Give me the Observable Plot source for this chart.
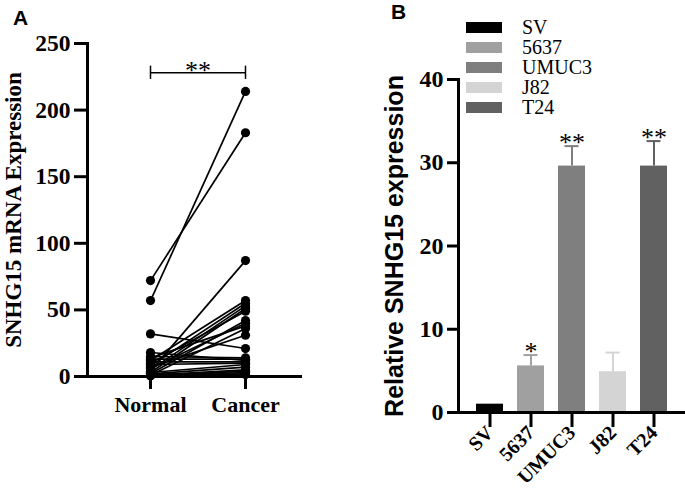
<!DOCTYPE html>
<html>
<head>
<meta charset="utf-8">
<script src="https://cdn.jsdelivr.net/npm/d3@7"></script>
<script src="https://cdn.jsdelivr.net/npm/@observablehq/plot@0.6"></script>
<style>
  html, body { margin: 0; padding: 0; background: #fff; }
  #root { position: relative; width: 685px; height: 496px; overflow: hidden; background: #fff; }
  .panel { position: absolute; top: 0; }
  .tag { position: absolute; font-family: "Liberation Sans", Arial, sans-serif; font-weight: bold; font-size: 21px; line-height: 24px; z-index: 2; }
  #legend { position: absolute; left: 466px; top: 17px; font-family: "Liberation Serif", "Times New Roman", serif; font-size: 20px; z-index: 2; }
  #legend .row { display: flex; align-items: center; height: 20px; }
  #legend .sw { width: 36px; height: 11px; margin-right: 20px; }
</style>
</head>
<body>
<div id="root">
  <div id="panelA" class="panel" style="left:0px;"></div>
  <div id="panelB" class="panel" style="left:365px;"></div>
  <div class="tag" style="left:13px; top:6px;">A</div>
  <div class="tag" style="left:391px; top:0px;">B</div>
  <div id="legend"></div>
</div>
<script>
// ---- Panel A data (paired samples) ----
const groupsA = ["Normal", "Cancer"];
const normalValues = [72, 57, 32, 4, 12, 8, 5, 3, 10, 2, 6, 14, 1, 7, 15, 18, 11, 3, 2, 1, 0.5, 0.5, 1, 2, 9, 13];
const cancerValues = [183, 214, 21, 87, 57, 55, 53, 51, 49, 42, 40, 38, 36, 31, 14, 12, 11, 9, 7, 5, 4, 3, 2, 1.5, 10, 13];
const ticksA = [0, 50, 100, 150, 200, 250];
const sigA = {from: "Normal", to: "Cancer", y: 228, label: "**"};
const titleA = "SNHG15 mRNA Expression";

// ---- Panel B data ----
const cellLines = ["SV", "5637", "UMUC3", "J82", "T24"];
const meanValues = [1, 5.6, 29.6, 4.9, 29.6];
const errValues = [0, 1.3, 2.4, 2.3, 3.0];
const sigLabels = ["", "*", "**", "", "**"];
const barColors = ["#000000", "#a0a0a0", "#7f7f7f", "#d4d4d4", "#616161"];
const ticksB = [0, 10, 20, 30, 40];
const titleB = "Relative SNHG15 expression";

const serif = "'Liberation Serif', 'Times New Roman', serif";
const sans = "'Liberation Sans', Arial, sans-serif";

const pairs = normalValues.map((n, i) => ({normal: n, cancer: cancerValues[i]}));
const points = [
  ...normalValues.map(v => ({group: "Normal", value: v})),
  ...cancerValues.map(v => ({group: "Cancer", value: v}))
];

const plotA = Plot.plot({
  width: 330, height: 496,
  marginLeft: 87, marginRight: 30, marginTop: 43, marginBottom: 120,
  style: {background: "transparent", color: "#000", overflow: "visible"},
  x: {type: "point", domain: groupsA, range: [150, 245], padding: 0, axis: null},
  y: {domain: [0, 250], axis: null},
  marks: [
    Plot.link(pairs, {x1: () => "Normal", x2: () => "Cancer", y1: "normal", y2: "cancer", stroke: "#000", strokeWidth: 1.7}),
    Plot.dot(points, {x: "group", y: "value", r: 4.6, fill: "#000", stroke: "none"}),
    Plot.axisY({ticks: ticksA, tickSize: 13, tickPadding: 4, strokeWidth: 3, fontSize: 23.5, fontWeight: "bold", fontFamily: serif, label: null, tickFormat: d => d}),
    Plot.axisX({tickSize: 13, tickPadding: 7, strokeWidth: 3, fontSize: 22, fontWeight: "bold", fontFamily: serif, label: null}),
    Plot.frame({anchor: "left", strokeWidth: 3}),
    Plot.frame({anchor: "bottom", strokeWidth: 3}),
    // significance bracket
    Plot.link([sigA], {x1: "from", x2: "to", y1: "y", y2: "y", stroke: "#000", strokeWidth: 1.5}),
    Plot.ruleX([sigA], {x: "from", y1: d => d.y - 5, y2: d => d.y + 5, stroke: "#000", strokeWidth: 1.5}),
    Plot.ruleX([sigA], {x: "to", y1: d => d.y - 5, y2: d => d.y + 5, stroke: "#000", strokeWidth: 1.5}),
    Plot.text([sigA], {x: "from", y: "y", dx: 47.5, text: "label", fontSize: 26, fontFamily: serif, lineAnchor: "bottom", dy: 6}),
    Plot.text([titleA], {frameAnchor: "left", textAnchor: "middle", rotate: -90, dx: -74, fontSize: 23, fontWeight: "bold", fontFamily: serif})
  ]
});
document.getElementById("panelA").appendChild(plotA);

const cells = cellLines.map((name, i) => ({name, value: meanValues[i], err: errValues[i], sig: sigLabels[i]}));

const plotB = Plot.plot({
  width: 320, height: 496,
  marginLeft: 93, marginRight: 0, marginTop: 79, marginBottom: 84,
  style: {background: "transparent", color: "#000", overflow: "visible"},
  x: {type: "band", domain: cellLines, paddingInner: 0.33, paddingOuter: 0.37, axis: null},
  y: {domain: [0, 40], axis: null},
  color: {domain: cellLines, range: barColors},
  marks: [
    Plot.ruleX(cells.filter(d => d.err > 0), {x: "name", y1: "value", y2: d => d.value + d.err, stroke: "name", strokeWidth: 2}),
    Plot.tickY(cells.filter(d => d.err > 0), {x: "name", y: d => d.value + d.err, stroke: "name", strokeWidth: 2, insetLeft: 6.5, insetRight: 6.5}),
    Plot.barY(cells, {x: "name", y: "value", fill: "name"}),
    Plot.text(cells, {x: "name", y: d => d.value + d.err, text: "sig", fontSize: 26, fontFamily: serif, lineAnchor: "bottom", dy: 5}),
    Plot.axisY({ticks: ticksB, tickSize: 11, tickPadding: 4, strokeWidth: 3, fontSize: 24, fontWeight: "bold", fontFamily: serif, label: null}),
    Plot.axisX({tickSize: 15, tickPadding: 2, tickRotate: -45, strokeWidth: 3, fontSize: 20, fontWeight: "bold", fontFamily: serif, label: null}),
    Plot.frame({anchor: "left", strokeWidth: 3}),
    Plot.frame({anchor: "bottom", strokeWidth: 3}),
    Plot.text([titleB], {frameAnchor: "left", textAnchor: "middle", rotate: -90, dx: -64, fontSize: 25, fontWeight: "bold", fontFamily: sans})
  ]
});
document.getElementById("panelB").appendChild(plotB);

// legend
const legend = document.getElementById("legend");
cellLines.forEach((name, i) => {
  const row = document.createElement("div");
  row.className = "row";
  const sw = document.createElement("div");
  sw.className = "sw";
  sw.style.background = barColors[i];
  const lab = document.createElement("span");
  lab.textContent = name;
  row.appendChild(sw); row.appendChild(lab);
  legend.appendChild(row);
});
</script>
</body>
</html>
